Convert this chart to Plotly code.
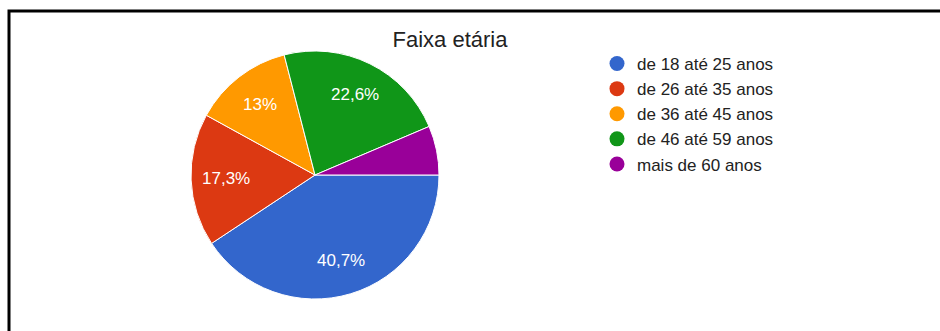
import math
import plotly.graph_objects as go

# Age groups and their share of respondents (%)
categories = ["de 18 até 25 anos", "de 26 até 35 anos", "de 36 até 45 anos",
              "de 46 até 59 anos", "mais de 60 anos"]
shares = [40.7, 17.3, 13.0, 22.6, 6.4]
colors = ["#3366cc", "#dc3912", "#ff9900", "#109618", "#990099"]

W, H = 940, 331
FONT = "Arial, Liberation Sans"

fig = go.Figure()

# Pie geometry (pixels): centre and radius; slices start at 3 o'clock, clockwise
cx, cy, r = 315, 175, 124
start_deg = 90
fig.add_trace(go.Pie(
    labels=categories, values=shares, sort=False,
    direction="clockwise", rotation=start_deg,
    marker=dict(colors=colors, line=dict(color="white", width=1)),
    textinfo="none",
    hoverinfo="label+percent",
    domain=dict(x=[(cx - r) / W, (cx + r) / W], y=[(H - cy - r) / H, (H - cy + r) / H]),
    showlegend=False,
))

# Percent labels (pt-BR decimal comma) on each slice's mid-angle; tiny slices unlabelled
total = sum(shares)
annotations = []
acc = 0.0
for v in shares:
    mid = math.radians(start_deg + 360 * (acc + v / 2) / total)
    acc += v
    if v < 10:
        continue
    d = 0.72 * r
    px = cx + d * math.sin(mid)
    py = cy - d * math.cos(mid)
    annotations.append(dict(
        x=px / W, y=1 - py / H, xref="paper", yref="paper",
        xanchor="center", yanchor="middle",
        text="{:g}%".format(v).replace(".", ","), showarrow=False,
        font=dict(family=FONT, size=17, color="white"),
    ))

# Circle-marker legend entries, one per age group
for i, (name, col) in enumerate(zip(categories, colors)):
    fig.add_trace(go.Scatter(
        x=[None], y=[None], mode="markers", name=name,
        marker=dict(symbol="circle", size=15, color=col),
        legendgroup=f"g{i}", showlegend=True,
    ))

fig.update_layout(
    width=W, height=H,
    margin=dict(l=0, r=0, t=0, b=0),
    paper_bgcolor="white", plot_bgcolor="white",
    xaxis=dict(visible=False), yaxis=dict(visible=False),
    title=dict(text="Faixa etária", x=450 / W, y=1 - 39 / H,
               xanchor="center", yanchor="middle",
               font=dict(family=FONT, size=22, color="#222222")),
    legend=dict(x=597 / W, y=1 - 46 / H, xanchor="left", yanchor="top",
                font=dict(family=FONT, size=17, color="#222222"),
                tracegroupgap=0, itemwidth=30, bgcolor="rgba(0,0,0,0)"),
    annotations=annotations,
    shapes=[dict(type="rect", xref="paper", yref="paper",
                 x0=9 / W, x1=1.05, y0=-0.1, y1=1 - 11 / H,
                 line=dict(color="black", width=3), layer="above")],
)

fig.write_html("out.html")
